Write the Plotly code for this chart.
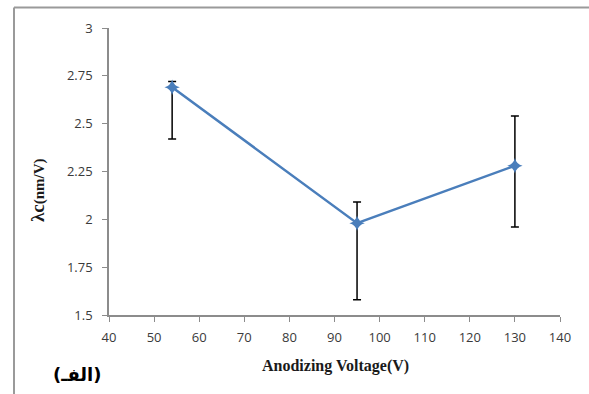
import plotly.graph_objects as go

voltage = [54, 95, 130]
lambda_c = [2.69, 1.98, 2.28]
err_plus = [0.03, 0.11, 0.26]
err_minus = [0.27, 0.40, 0.32]

y_ticks = [1.5, 1.75, 2, 2.25, 2.5, 2.75, 3]
y_tick_text = ["1.5", "1.75", "2", "2.25", "2.5", "2.75", "3"]
x_ticks = [40, 50, 60, 70, 80, 90, 100, 110, 120, 130, 140]

W, H = 589, 394
L, R, T, B = 109, 29, 28, 79
pw, ph = W - L - R, H - T - B

def px_x(p):
    return (p - L) / pw

def px_y(p):
    return 1 - (p - T) / ph

fig = go.Figure()
fig.add_trace(go.Scatter(
    x=voltage, y=lambda_c, mode="lines+markers",
    line=dict(color="#4a7ebb", width=2.5),
    marker=dict(symbol="star-diamond", size=11, color="#4a7ebb"),
    error_y=dict(type="data", symmetric=False, array=err_plus, arrayminus=err_minus,
                 color="black", thickness=1.5, width=4),
    showlegend=False,
))

tickfont = dict(family="Open Sans, Liberation Sans, sans-serif", size=13, color="#3a3a3a")
border = dict(color="#9a9a9a", width=2)

fig.update_layout(
    width=W, height=H,
    margin=dict(l=L, r=R, t=T, b=B),
    paper_bgcolor="white", plot_bgcolor="white",
    xaxis=dict(range=[40, 140], tickvals=x_ticks, showgrid=False, zeroline=False,
               showline=True, linecolor="#8c8c8c", linewidth=1.5,
               ticks="outside", ticklen=5, tickcolor="#8c8c8c", tickfont=tickfont,
               ticklabelstandoff=5),
    yaxis=dict(range=[1.5, 3], tickvals=y_ticks, ticktext=y_tick_text, showgrid=False,
               zeroline=False, showline=True, linecolor="#8c8c8c", linewidth=1.5,
               ticks="outside", ticklen=5, tickcolor="#8c8c8c", tickfont=tickfont,
               ticklabelstandoff=7),
    shapes=[
        dict(type="line", xref="paper", yref="paper", layer="above",
             x0=px_x(14), x1=px_x(600), y0=px_y(7.5), y1=px_y(7.5), line=border),
        dict(type="line", xref="paper", yref="paper", layer="above",
             x0=px_x(14), x1=px_x(14), y0=px_y(7.5), y1=px_y(400), line=border),
    ],
    annotations=[
        dict(text="<b>Anodizing Voltage(V)</b>", xref="paper", yref="paper",
             x=px_x(335), y=px_y(366), xanchor="center", yanchor="middle", showarrow=False,
             font=dict(family="Liberation Serif, serif", size=16, color="#1a1a1a")),
        dict(text="<b><span style='font-size:19px'>λc</span>(nm/V)</b>", xref="paper", yref="paper",
             x=px_x(37), y=px_y(190), xanchor="center", yanchor="middle", showarrow=False,
             textangle=-90,
             font=dict(family="Liberation Serif, serif", size=15, color="#1a1a1a")),
        dict(text="<b>(الفـ)</b>", xref="paper", yref="paper",
             x=px_x(77), y=px_y(374), xanchor="center", yanchor="middle", showarrow=False,
             font=dict(family="DejaVu Sans, sans-serif", size=18, color="black")),
    ],
)

fig.write_html("out.html", config={"displayModeBar": False},
               post_script="document.body.style.margin='0';")
